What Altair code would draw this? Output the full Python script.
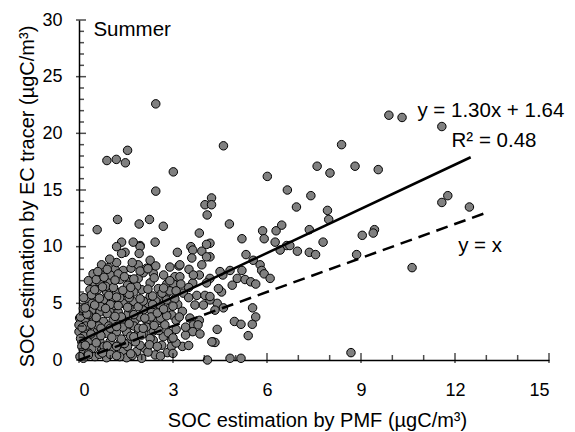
import altair as alt
import pandas as pd

# ---- data ----
pmf = [
    2.45, 4.61, 1.55, 0.89, 1.19, 1.48, 3.01, 6.01, 2.45, 4.23, 4.02, 4.23, 4.09, 1.23, 2.25, 1.92,
    4.80, 2.69, 0.58, 5.86, 6.29, 6.47, 6.65,
    9.89, 10.31, 11.58, 8.38, 7.60, 8.01, 8.81, 9.55, 7.40, 6.94, 7.93, 7.97, 11.77, 11.58, 12.46,
    7.35, 9.43, 9.04, 9.39, 7.79, 6.63, 6.73, 6.97, 7.35, 7.55, 8.86, 10.63, 8.68,
    5.91, 6.26, 6.42, 5.20, 5.33, 5.56, 5.78, 5.83, 5.91, 6.10, 5.20, 5.05, 5.30, 5.48, 5.64, 4.89,
    4.59, 4.50, 4.18, 4.55, 4.41, 4.18, 4.61, 4.34, 5.54, 5.64, 5.53, 4.96, 5.17, 5.40, 4.41, 4.27,
    4.34, 4.82, 5.17, 4.10, 4.18, 4.18,
    3.84, 2.43, 1.95, 3.14, 3.57, 3.63, 3.92, 4.07, 4.07, 3.60, 2.27, 3.19, 3.51, 3.92, 2.16, 2.37,
    3.06, 3.22, 3.84, 2.80, 3.01, 3.63, 4.07, 2.00, 2.27, 2.53, 2.78, 3.33, 3.76, 4.02, 3.70, 3.97,
    4.18, 3.15, 2.88, 2.59, 2.32, 2.05, 2.96, 3.54, 3.65, 3.84, 3.10, 3.63, 3.86, 4.24, 2.96, 2.69,
    2.37, 2.07, 2.37, 2.11, 2.43, 2.82, 2.53, 2.27, 2.59, 2.80, 3.06, 2.16, 2.48, 2.74, 2.27, 2.64,
    1.36, 1.73, 1.20, 1.47, 1.95, 1.92, 0.72, 0.94, 1.15, 1.41, 1.66, 1.89, 0.78, 0.51, 0.35, 0.67,
    0.99, 1.31, 1.63, 1.89, 1.84, 0.88, 1.20, 1.52, 0.25, 0.51, 0.78, 1.09, 1.41, 1.73, 1.89, 0.14,
    0.41, 0.67, 0.99, 1.25, 1.57, 0.02, 0.19, 0.46, 0.78, 1.09, 1.41, 1.79, 0.00, 0.25, 0.57, 0.88,
    1.20, 1.52, 1.84, 0.09, 0.35, 0.67, 0.99, 1.31, 1.63, 0.14, 0.41, 0.72, 1.09, 1.41, 1.84, 0.14,
    0.51, 0.88, 1.52, 2.00, 0.00, 0.03, 0.09,
    0.22, 0.30, 0.55, 0.62, 0.95, 1.15, 1.35, 1.60, 1.75, 1.05, 0.50, 0.80, 1.20, 1.55, 1.95, 0.30,
    0.65, 1.00, 1.30, 1.70, 0.15, 0.38, 0.70, 1.00, 1.40, 1.65, 1.90, 2.15, 2.30, 2.55, 2.20, 2.45,
    2.65, 2.90, 1.00, 1.25, 1.55, 1.75, 0.85, 1.10, 0.60, 0.42, 0.70, 1.00, 1.30, 1.60, 2.05, 1.95,
    2.60, 2.85, 3.10, 3.30, 3.40, 3.30, 2.95, 3.50, 3.25, 2.70, 2.45, 2.90, 1.70, 2.05, 1.20, 0.98,
    0.30, 0.45, 1.36, 3.22, 3.65, 4.45, 4.82,
    0.30, 0.75, 1.20, 1.65, 2.20, 2.60, 3.00,
    0.20, 0.55, 0.90, 1.45, 1.80, 2.25, 2.50, 3.10, 3.50,
    0.05, 0.70, 1.35, 1.75, 2.00, 3.00,
    0.10, 0.40, 1.20, 1.60, 2.05, 2.40, 3.40, 3.80,
    0.05, 0.25, 0.55, 0.90, 1.15, 1.75, 2.10, 2.50, 2.80, 3.20,
    0.20, 0.50, 0.85, 1.25, 1.55, 2.35, 2.70, 3.00,
    0.15, 0.40, 0.65, 0.95, 1.20, 1.60, 1.95, 2.35, 3.50,
    0.50, 0.75, 1.40, 1.65, 2.20, 2.70, 3.10,
    0.55, 0.80, 1.15, 1.45, 1.75, 2.40, 2.90,
    0.60, 0.90, 1.95, 2.20,
]
ec = [
    22.6, 18.9, 18.5, 17.6, 17.7, 17.4, 16.6, 16.2, 14.9, 14.3, 13.7, 13.7, 12.8, 12.4, 12.4, 12.0,
    12.0, 11.8, 11.5, 11.4, 11.4, 11.9, 15.0,
    21.6, 21.4, 20.6, 19.0, 17.1, 16.5, 17.1, 16.8, 14.5, 13.5, 13.2, 12.4, 14.5, 13.9, 13.5,
    11.5, 11.5, 11.0, 11.2, 10.4, 10.1, 10.1, 9.6, 9.5, 9.3, 9.3, 8.15, 0.65,
    10.7, 10.4, 9.7, 10.7, 9.3, 8.8, 8.4, 7.9, 7.6, 7.2, 7.9, 7.2, 7.1, 6.9, 6.7, 6.6,
    7.5, 7.8, 7.2, 6.0, 5.0, 5.3, 4.6, 4.4, 4.6, 3.8, 3.15, 3.4, 3.15, 2.15, 2.7, 1.6,
    1.55, 0.15, 0.15, 0.0, 10.3, 9.1,
    11.2, 10.4, 10.1, 9.5, 10.0, 9.7, 9.6, 10.2, 9.1, 9.0, 8.8, 8.3, 8.0, 8.4, 8.1, 7.65,
    7.35, 7.35, 7.5, 6.7, 6.7, 6.8, 6.8, 6.2, 5.6, 5.6, 5.8, 5.9, 5.7, 5.7, 4.85, 4.85,
    5.6, 4.9, 4.55, 4.4, 4.3, 4.4, 3.97, 3.7, 3.1, 3.5, 2.7, 2.5, 2.3, 1.6, 1.75, 2.05,
    2.55, 2.35, 1.75, 1.0, 0.45, 0.65, 6.3, 6.8, 4.85, 5.3, 5.4, 3.5, 3.4, 3.1, 1.9, 1.3,
    10.4, 10.4, 10.0, 9.5, 10.0, 9.4, 8.4, 8.15, 8.0, 7.9, 8.1, 8.4, 7.5, 6.6, 6.2, 6.8,
    6.9, 7.1, 7.1, 7.2, 6.5, 6.0, 6.0, 5.9, 5.45, 5.6, 5.3, 5.15, 5.0, 5.15, 4.7, 4.55,
    4.4, 4.25, 4.4, 4.25, 4.1, 3.7, 3.5, 3.4, 3.4, 3.5, 3.4, 3.5, 2.5, 2.65, 2.5, 2.35,
    2.5, 2.5, 2.2, 1.6, 1.75, 1.6, 1.6, 1.5, 1.6, 0.9, 1.0, 0.9, 1.0, 0.75, 0.75, 0.15,
    0.3, 0.2, 0.2, 0.15, 3.1, 0.3, 1.2,
    3.0, 4.0, 4.9, 3.0, 3.0, 4.8, 3.8, 4.6, 3.0, 2.0, 2.0, 1.2, 1.2, 1.2, 1.3, 0.6,
    0.5, 0.5, 0.3, 0.4, 2.1, 2.3, 2.8, 2.8, 2.9, 2.1, 2.8, 2.9, 3.8, 2.6, 5.0, 5.2,
    5.9, 6.1, 7.5, 7.6, 6.6, 6.0, 6.5, 6.4, 6.2, 5.0, 4.7, 4.9, 5.5, 5.5, 5.2, 3.8,
    3.7, 2.4, 3.5, 4.3, 2.2, 1.2, 1.2, 6.4, 6.7, 7.5, 8.3, 8.2, 8.6, 7.7, 8.6, 8.9,
    7.0, 7.6, 9.4, 8.4, 7.5, 6.3, 7.9,
    0.45, 0.62, 0.38, 0.55, 0.70, 0.35, 0.58,
    1.30, 1.52, 1.25, 1.45, 1.60, 1.35, 1.20, 1.50, 1.28,
    1.90, 2.15, 1.85, 2.05, 2.20, 1.95,
    2.85, 3.15, 2.95, 3.20, 2.80, 3.05, 2.90, 3.10,
    3.80, 4.05, 3.75, 4.10, 3.85, 4.00, 3.70, 4.15, 3.90, 3.80,
    4.60, 4.85, 4.55, 4.80, 4.65, 4.90, 4.50, 4.75,
    5.50, 5.75, 5.45, 5.70, 5.55, 5.80, 5.40, 5.65, 5.50,
    6.20, 6.45, 6.15, 6.40, 6.25, 6.35, 6.10,
    7.10, 7.30, 7.05, 7.35, 7.15, 7.25, 7.00,
    7.80, 8.00, 7.85, 8.05,
]

fit_x = [0, 12.5]          # y = 1.30x + 1.64
fit_y = [1.64, 17.89]
one_x = [0, 13]            # y = x
one_y = [0, 13]

x_labels = [0, 3, 6, 9, 12, 15]
x_minor = [1, 2, 4, 5, 7, 8, 10, 11, 13, 14]
y_labels = [0, 5, 10, 15, 20, 25, 30]
y_minor = [v for v in range(31) if v % 5 != 0]

FONT = "Liberation Sans"

points = pd.DataFrame({"pmf": pmf, "ec": ec})
fit = pd.DataFrame({"x": fit_x, "y": fit_y})
one = pd.DataFrame({"x": one_x, "y": one_y})

xs = alt.Scale(domain=[0, 15], nice=False, zero=False)
ys = alt.Scale(domain=[0, 30], nice=False, zero=False)

X_TITLE = "SOC estimation by PMF (µgC/m³)"
Y_TITLE = "SOC estimation by EC tracer (µgC/m³)"

x_axis = alt.Axis(
    values=x_labels, ticks=False, grid=False, domainColor="black", domainWidth=1.5,
    labelFont=FONT, labelFontSize=18, labelColor="black", labelPadding=21,
    titleFont=FONT, titleFontSize=20,
    titleFontWeight="normal", titleColor="black", titleX=238, titleY=66,
    titleAlign="center", titleBaseline="alphabetic",
)
y_axis = alt.Axis(
    values=y_labels, ticks=False, grid=False, domainColor="black", domainWidth=1.5,
    labelFont=FONT, labelFontSize=18, labelColor="black", labelPadding=17,
    titleFont=FONT, titleFontSize=20,
    titleFontWeight="normal", titleColor="black", titleX=-46, titleY=176,
    titleAngle=270, titleAlign="center", titleBaseline="alphabetic",
)


def xenc(field):
    return alt.X(field, scale=xs, axis=x_axis, title=X_TITLE)


def yenc(field):
    return alt.Y(field, scale=ys, axis=y_axis, title=Y_TITLE)


scatter = alt.Chart(points).mark_circle(
    size=72, fill="#808080", stroke="black", strokeWidth=1, opacity=1
).encode(x=xenc("pmf:Q"), y=yenc("ec:Q"))

fit_line = alt.Chart(fit).mark_line(color="black", strokeWidth=2.5).encode(
    x=xenc("x:Q"), y=yenc("y:Q")
)
one_line = alt.Chart(one).mark_line(color="black", strokeWidth=2.5, strokeDash=[12, 7]).encode(
    x=xenc("x:Q"), y=yenc("y:Q")
)

xt_major = alt.Chart(pd.DataFrame({"v": x_labels, "z": [0] * len(x_labels)})).mark_tick(
    orient="vertical", size=10, thickness=1.5, color="black", yOffset=-2
).encode(x=xenc("v:Q"), y=yenc("z:Q"))
xt_minor = alt.Chart(pd.DataFrame({"v": x_minor, "z": [0] * len(x_minor)})).mark_tick(
    orient="vertical", size=5, thickness=1.5, color="black", yOffset=-2.5
).encode(x=xenc("v:Q"), y=yenc("z:Q"))
yt_major = alt.Chart(pd.DataFrame({"v": y_labels, "z": [0] * len(y_labels)})).mark_tick(
    orient="horizontal", size=10, thickness=1.5, color="black", xOffset=2
).encode(y=yenc("v:Q"), x=xenc("z:Q"))
yt_minor = alt.Chart(pd.DataFrame({"v": y_minor, "z": [0] * len(y_minor)})).mark_tick(
    orient="horizontal", size=5, thickness=1.5, color="black", xOffset=2.5
).encode(y=yenc("v:Q"), x=xenc("z:Q"))


def label(text, x, y):
    return alt.Chart(pd.DataFrame({"t": [text], "x": [x], "y": [y]})).mark_text(
        font=FONT, fontSize=20.5, color="black", align="left", baseline="alphabetic"
    ).encode(x=xenc("x:Q"), y=yenc("y:Q"), text="t:N")


chart = alt.layer(
    scatter, fit_line, one_line, xt_major, xt_minor, yt_major, yt_minor,
    label("Summer", 0.46, 28.6),
    label("y = 1.30x + 1.64", 10.8, 21.47),
    label("R² = 0.48", 11.89, 18.83),
    label("y = x", 12.1, 9.56),
).properties(
    width=470, height=340,
    autosize=alt.AutoSizeParams(type="none"),
    padding={"left": 71, "top": 12, "right": 18, "bottom": 72},
    background="white",
).configure_view(stroke=None)

chart.save("out.html", embed_options={"renderer": "svg", "actions": False})
